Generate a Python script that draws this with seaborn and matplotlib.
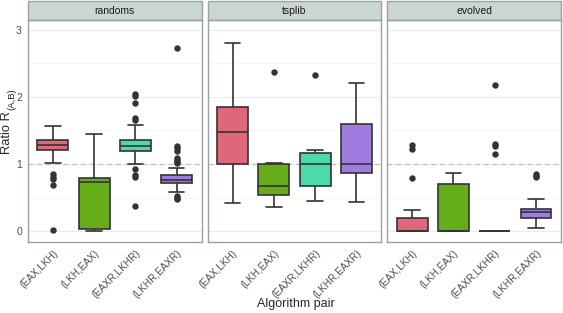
import matplotlib
matplotlib.use("Agg")
import matplotlib.pyplot as plt
from matplotlib.patches import Rectangle
import seaborn as sns
import pandas as pd

# categories
sets = ["randoms", "tsplib", "evolved"]
pairs = ["(EAX,LKH)", "(LKH,EAX)", "(EAXR,LKHR)", "(LKHR,EAXR)"]
colors = ["#F2536C", "#66C600", "#33F2B4", "#9A6BEF"]

# ratio samples, one list per (set, pair)
randoms_eax_lkh = [0.02, 0.69, 0.78, 0.81, 0.85, 1.01, 1.21, 1.23, 1.24, 1.25, 1.26,
                   1.27, 1.28, 1.29, 1.30, 1.32, 1.33, 1.35, 1.36, 1.38, 1.41, 1.45,
                   1.50, 1.53, 1.57]
randoms_lkh_eax = [0.0, 0.01, 0.03, 0.50, 0.74, 0.77, 0.79, 1.10, 1.45]
randoms_eaxr_lkhr = [0.37, 0.80, 0.84, 0.92, 1.00, 1.10, 1.20, 1.22, 1.23, 1.24, 1.25,
                     1.26, 1.27, 1.28, 1.30, 1.31, 1.33, 1.35, 1.36, 1.58, 1.66, 1.68,
                     1.91, 2.02, 2.05]
randoms_lkhr_eaxr = [0.48, 0.50, 0.53, 0.59, 0.62, 0.65, 0.68, 0.70, 0.71, 0.72, 0.72,
                     0.73, 0.73, 0.74, 0.74, 0.75, 0.75, 0.76, 0.76, 0.77, 0.77, 0.78,
                     0.79, 0.80, 0.81, 0.82, 0.83, 0.83, 0.94, 1.01, 1.03, 1.06, 1.09,
                     1.19, 1.24, 1.27, 2.73]

tsplib_eax_lkh = [0.42, 0.80, 1.00, 1.30, 1.47, 1.60, 1.85, 2.20, 2.81]
tsplib_lkh_eax = [0.36, 0.45, 0.54, 0.60, 0.68, 0.90, 1.00, 1.02, 2.37]
tsplib_eaxr_lkhr = [0.45, 0.55, 0.67, 0.90, 1.00, 1.10, 1.16, 1.21, 2.32]
tsplib_lkhr_eaxr = [0.43, 0.70, 0.86, 0.95, 1.00, 1.30, 1.60, 1.90, 2.21]

evolved_eax_lkh = [0.0, 0.0, 0.0, 0.0, 0.0, 0.0, 0.0, 0.0, 0.0, 0.02, 0.05, 0.10,
                   0.19, 0.32, 0.79, 1.22, 1.28]
evolved_lkh_eax = [0.0, 0.0, 0.0, 0.0, 0.0, 0.30, 0.71, 0.80, 0.86]
evolved_eaxr_lkhr = [0.0, 0.0, 0.0, 0.0, 0.0, 0.0, 0.0, 0.0, 0.0, 0.0, 0.0, 0.0, 0.0,
                     1.15, 1.27, 1.30, 2.17]
evolved_lkhr_eaxr = [0.05, 0.10, 0.14, 0.17, 0.19, 0.22, 0.25, 0.27, 0.28, 0.30, 0.31,
                     0.32, 0.33, 0.48, 0.80, 0.82, 0.85]

samples = {
    "randoms": [randoms_eax_lkh, randoms_lkh_eax, randoms_eaxr_lkhr, randoms_lkhr_eaxr],
    "tsplib": [tsplib_eax_lkh, tsplib_lkh_eax, tsplib_eaxr_lkhr, tsplib_lkhr_eaxr],
    "evolved": [evolved_eax_lkh, evolved_lkh_eax, evolved_eaxr_lkhr, evolved_lkhr_eaxr],
}

rows = []
for s in sets:
    for p, vals in zip(pairs, samples[s]):
        for v in vals:
            rows.append({"set": s, "pair": p, "ratio": v})
df = pd.DataFrame(rows)

sns.set_style("white")
plt.rcParams["font.family"] = ["Liberation Sans", "DejaVu Sans"]

fig, axes = plt.subplots(1, 3, figsize=(5.63, 3.13), dpi=100, sharey=True)
fig.subplots_adjust(left=0.05, right=0.996, bottom=0.227, top=0.935, wspace=0.036)

edge = "#333333"
for ax, s in zip(axes, sets):
    sub = df[df["set"] == s]
    ax.set_axisbelow(True)
    ax.set_yticks([0.5, 1.5, 2.5], minor=True)
    ax.grid(True, which="major", color="#EBEBEB", linewidth=0.8)
    ax.grid(True, which="minor", axis="y", color="#F3F3F3", linewidth=0.5)
    ax.axhline(1, color="#B8C4C4", linestyle=(0, (4, 3)), linewidth=0.9, zorder=1)
    sns.boxplot(data=sub, x="pair", y="ratio", hue="pair", order=pairs, hue_order=pairs,
                palette=colors, legend=False, width=0.75, ax=ax, linewidth=1.2,
                linecolor=edge,
                flierprops=dict(marker="o", markerfacecolor=edge, markeredgecolor=edge,
                                markersize=3.6))
    ax.set_ylim(-0.16, 3.14)
    ax.set_xlim(-0.6, 3.6)
    ax.set_yticks([0, 1, 2, 3])
    ax.set_xlabel("")
    ax.set_ylabel("")
    ax.tick_params(axis="both", length=3, color="#555555", labelsize=7.2,
                   labelcolor="#4D4D4D", pad=1.5)
    ax.tick_params(axis="y", labelsize=7.5)
    ax.tick_params(axis="y", which="minor", length=0)
    for lab in ax.get_xticklabels():
        lab.set_rotation(45)
        lab.set_ha("right")
        lab.set_rotation_mode("anchor")
    for sp in ax.spines.values():
        sp.set_color("#9AA3A3")
        sp.set_linewidth(1.0)
    ax.add_patch(Rectangle((0, 1.0), 1, 0.086, transform=ax.transAxes, clip_on=False,
                           facecolor="#CBD5D2", edgecolor="#9AA3A3", linewidth=1.0))
    ax.text(0.5, 1.043, s, transform=ax.transAxes, ha="center", va="center",
            fontsize=7.5, color="#1A1A1A")

# y label with a larger subscript, as ggplot draws it
fig.text(7.5 / 563, 1 - 111 / 313, "Ratio R", rotation=90, rotation_mode="anchor",
         ha="right", va="center", fontsize=9.3)
fig.text(11.5 / 563, 1 - 110 / 313, "(A,B)", rotation=90, rotation_mode="anchor",
         ha="left", va="center", fontsize=6.8)
fig.text(0.525, 0.03, "Algorithm pair", ha="center", va="center", fontsize=9)

fig.savefig("out.png", dpi=100)
